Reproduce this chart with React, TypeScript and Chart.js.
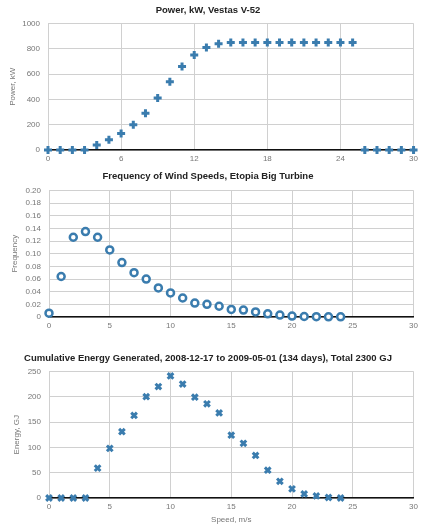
import React, { useEffect, useRef } from "react";
import { Chart, registerables } from "chart.js";
Chart.register(...registerables);

const powerSpeeds = [0,1,2,3,4,5,6,7,8,9,10,11,12,13,14,15,16,17,18,19,20,21,22,23,24,25,26,27,28,29,30];
const powerKW = [0,0,0,0,40,80,130,200,290,410,540,660,750,810,840,850,850,850,850,850,850,850,850,850,850,850,0,0,0,0,0];

const freqSpeeds = [0,1,2,3,4,5,6,7,8,9,10,11,12,13,14,15,16,17,18,19,20,21,22,23,24];
const frequency = [0.006,0.064,0.126,0.135,0.126,0.106,0.086,0.070,0.060,0.046,0.038,0.030,0.022,0.020,0.017,0.012,0.011,0.008,0.005,0.003,0.0015,0.0008,0.0005,0.0003,0.0003];

const energySpeeds = [0,1,2,3,4,5,6,7,8,9,10,11,12,13,14,15,16,17,18,19,20,21,22,23,24];
const energyGJ = [0,0,0,0,59,98,131,163,200,220,241,225,199,186,168,124,108,84,55,33,18,8,4,1,0];

const titles = [
  "Power, kW, Vestas V-52",
  "Frequency of Wind Speeds, Etopia Big Turbine",
  "Cumulative Energy Generated, 2008-12-17 to 2009-05-01 (134 days), Total 2300 GJ",
];

const COLOR = "#3a7cae";
const FONT = "'Liberation Sans', Arial, sans-serif";

type Cfg = {
  height: number;
  xs: number[];
  ys: number[];
  pointStyle: any;
  radius: number;
  bw: number;
  bg: string;
  title: string;
  titleTop: number;
  titleBottom: number;
  yTitle: string;
  yTitlePad: number;
  yMax: number;
  yStep: number;
  yFmt: (v: number) => string;
  xStep: number;
  xAxisH: number;
  xTitle?: string;
  yAxisW: number;
};

function SubChart({ cfg }: { cfg: Cfg }) {
  const ref = useRef<HTMLCanvasElement>(null);
  useEffect(() => {
    const data = cfg.xs.map((x, i) => ({ x, y: cfg.ys[i] }));
    const chart = new Chart(ref.current!, {
      type: "scatter",
      data: {
        datasets: [
          {
            data,
            clip: false,
            pointStyle: cfg.pointStyle,
            pointRadius: cfg.radius,
            pointBorderWidth: cfg.bw,
            borderColor: COLOR,
            backgroundColor: cfg.bg,
            pointBackgroundColor: cfg.bg,
            pointBorderColor: COLOR,
          } as any,
        ],
      },
      options: {
        animation: false,
        responsive: false,
        layout: { padding: { left: 0, right: 6, top: 0, bottom: 0 } },
        plugins: {
          legend: { display: false },
          tooltip: { enabled: false },
          title: {
            display: true,
            text: cfg.title,
            color: "#222",
            font: { family: FONT, size: 9.5, weight: "bold" },
            padding: { top: cfg.titleTop, bottom: cfg.titleBottom },
          },
        },
        scales: {
          x: {
            type: "linear",
            min: 0,
            max: 30,
            afterFit: (s: any) => { s.height = cfg.xAxisH; },
            ticks: {
              stepSize: cfg.xStep,
              color: "#777",
              font: { family: FONT, size: 8 },
              padding: 4,
              maxRotation: 0,
            },
            grid: { color: "#d0d0d0", lineWidth: 1, drawTicks: false },
            border: { display: true, color: "#111", width: 1.5 },
            title: cfg.xTitle
              ? { display: true, text: cfg.xTitle, color: "#777", font: { family: FONT, size: 8 }, padding: { top: 2, bottom: 0 } }
              : { display: false },
          },
          y: {
            min: 0,
            max: cfg.yMax,
            afterFit: (s: any) => { s.width = cfg.yAxisW; },
            ticks: {
              stepSize: cfg.yStep,
              color: "#777",
              font: { family: FONT, size: 8 },
              padding: 8,
              callback: (v: any) => cfg.yFmt(Number(v)),
            },
            grid: { color: "#d0d0d0", lineWidth: 1, drawTicks: false },
            border: { display: true, color: "#d0d0d0" },
            title: {
              display: true,
              text: cfg.yTitle,
              color: "#777",
              font: { family: FONT, size: 8 },
              padding: { top: cfg.yTitlePad, bottom: 0 },
            },
          },
        },
      },
    });
    return () => chart.destroy();
  }, []);
  return <canvas ref={ref} width={422} height={cfg.height} style={{ display: "block", width: 422, height: cfg.height }} />;
}

const cfgs: Cfg[] = [
  {
    height: 170, xs: powerSpeeds, ys: powerKW, pointStyle: "cross", radius: 4, bw: 3, bg: COLOR,
    title: titles[0], titleTop: 5, titleBottom: 7, yTitle: "Power, kW", yTitlePad: 8,
    yMax: 1000, yStep: 200, yFmt: (v) => String(v), xStep: 6, xAxisH: 20, yAxisW: 48,
  },
  {
    height: 175, xs: freqSpeeds, ys: frequency, pointStyle: "circle", radius: 3.5, bw: 2.5, bg: "#ffffff",
    title: titles[1], titleTop: 1, titleBottom: 8, yTitle: "Frequency", yTitlePad: 10,
    yMax: 0.2, yStep: 0.02, yFmt: (v) => (v === 0 ? "0" : v.toFixed(2)), xStep: 5, xAxisH: 28, yAxisW: 49,
  },
  {
    height: 180, xs: energySpeeds, ys: energyGJ, pointStyle: "crossRot", radius: 4, bw: 3, bg: COLOR,
    title: titles[2], titleTop: 8, titleBottom: 7, yTitle: "Energy, GJ", yTitlePad: 12,
    yMax: 250, yStep: 50, yFmt: (v) => String(v), xStep: 5, xAxisH: 27, xTitle: "Speed, m/s", yAxisW: 49,
  },
];

export default function App() {
  return (
    <div style={{ position: "absolute", left: 0, top: 0, width: 422, height: 525, background: "#fff" }}>
      {cfgs.map((c, i) => (
        <SubChart key={i} cfg={c} />
      ))}
    </div>
  );
}
